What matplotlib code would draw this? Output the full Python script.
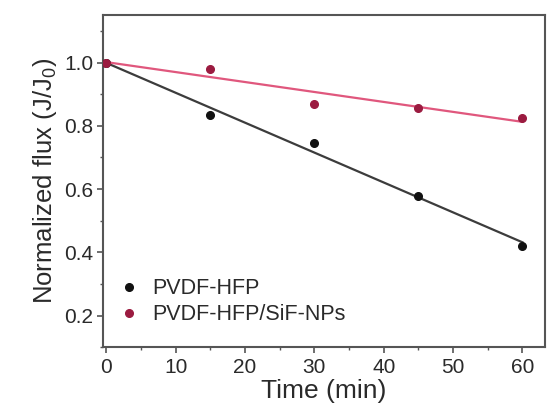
import matplotlib

matplotlib.use("Agg")
import matplotlib.pyplot as plt
import numpy as np
from matplotlib.ticker import MultipleLocator

plt.rcParams["font.family"] = ["Liberation Sans", "DejaVu Sans"]

# data
time_min = [0, 15, 30, 45, 60]
flux_pvdf = [1.0, 0.833, 0.747, 0.577, 0.419]
flux_pvdf_sif = [1.0, 0.981, 0.870, 0.857, 0.826]

x_ticks = [0, 10, 20, 30, 40, 50, 60]
y_ticks = [0.2, 0.4, 0.6, 0.8, 1.0]

TEXT = "#2a2a2a"
SPINE = "#555555"

fig = plt.figure(figsize=(5.49, 4.07), dpi=100)
ax = fig.add_axes([0.188, 0.147, 0.804, 0.816])

# linear fits through each series
fit_x = np.array([time_min[0], time_min[-1]])
for ys, line_color in ((flux_pvdf, "#3c3c3c"), (flux_pvdf_sif, "#e0577d")):
    slope, intercept = np.polyfit(time_min, ys, 1)
    ax.plot(fit_x, slope * fit_x + intercept, color=line_color, linewidth=1.6, zorder=2)

ax.plot(time_min, flux_pvdf, "o", color="#111111", markersize=5.5,
        linestyle="none", label="PVDF-HFP", zorder=3)
ax.plot(time_min, flux_pvdf_sif, "o", color="#9b1b40", markersize=5.5,
        linestyle="none", label="PVDF-HFP/SiF-NPs", zorder=3)

ax.set_xlim(-0.45, 63.2)
ax.set_ylim(0.1, 1.15)
ax.set_xticks(x_ticks)
ax.set_yticks(y_ticks)
ax.xaxis.set_minor_locator(MultipleLocator(5))
ax.yaxis.set_minor_locator(MultipleLocator(0.1))
ax.set_yticklabels([f"{v:.1f}" for v in y_ticks])

ax.tick_params(axis="both", which="major", direction="out", length=4,
               width=1.2, color=SPINE, labelcolor=TEXT)
ax.tick_params(axis="both", which="minor", direction="out", length=2.5,
               width=1.0, color=SPINE)
ax.tick_params(axis="x", labelsize=15, pad=4)
ax.tick_params(axis="y", labelsize=15, pad=3)

for spine in ax.spines.values():
    spine.set_color(SPINE)
    spine.set_linewidth(1.5)

ax.set_xlabel("Time (min)", fontsize=19, color=TEXT, labelpad=1)
ax.set_ylabel(r"Normalized flux (J/J$_\mathregular{0}$)", fontsize=18.5,
              color=TEXT, labelpad=4)

ax.legend(loc="lower left", bbox_to_anchor=(0.0, 0.02), frameon=False,
          fontsize=15.5, handlelength=1.0, handletextpad=0.6,
          labelspacing=0.25, borderaxespad=0.3, labelcolor=TEXT)

fig.savefig("out.png", dpi=100)
